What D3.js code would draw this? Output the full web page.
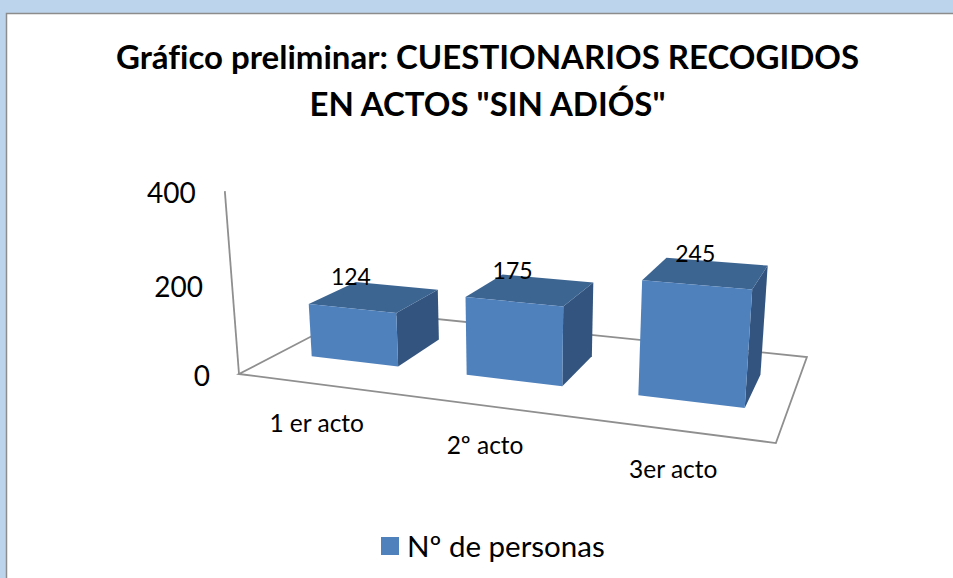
<!DOCTYPE html>
<html><head><meta charset="utf-8">
<script src="https://cdn.jsdelivr.net/npm/d3@7"></script>
<style>html,body{margin:0;padding:0;background:#BDD5EC;overflow:hidden}text{font-family:Lato,Carlito,sans-serif;fill:#000;font-variant-ligatures:none}</style>
</head><body><svg id="c" width="953" height="578"></svg>
<script>
const titleLines = ['Gráfico preliminar: CUESTIONARIOS RECOGIDOS', 'EN ACTOS "SIN ADIÓS"'];
const categories = ['1 er acto', '2º acto', '3er acto'];
const values = [124, 175, 245];
const seriesName = 'Nº de personas';
const yTicks = [0, 200, 400];

const svg = d3.select('#c');
svg.append('rect').attr('x',6.5).attr('y',13.5).attr('width',960).attr('height',580)
  .attr('fill','#fff').attr('stroke','#8c8c8c').attr('stroke-width',1.5);

// Perspective camera: floor plane homography plus vanishing point of verticals
const H = {a:417.4,b:197.3,c:239,d:0.8,e:3,f:374,g:-0.154,h:0.212};
const V = [520,4000], n = 1.2e-4;
function project(u,v,w){
  const W = H.g*u+H.h*v+1;
  const fx = (H.a*u+H.b*v+H.c)/W, fy = (H.d*u+H.e*v+H.f)/W;
  const q = w*n, t = q/(W-q);
  return [fx+t*(fx-V[0]), fy+t*(fy-V[1])];
}
const xBand = d3.scaleBand().domain(categories).range([0,1]).paddingInner(0.43).paddingOuter(0.215);
const depth = d3.scaleLinear().domain([0,1]).range([0.3,0.7]);
const yVal = d3.scaleLinear().domain([0,400]).range([0,400]);
const line = d3.line();
const poly = pts => line(pts)+'Z';
const gray = '#8f8f8f';

// floor and wall
svg.append('path').attr('d',poly([project(0,0,0),project(1,0,0),project(1,1,0),project(0,1,0)]))
  .attr('fill','none').attr('stroke',gray).attr('stroke-width',1.8);
svg.append('path').attr('d',line([project(0,0,0),project(0,0,yVal(400))]))
  .attr('fill','none').attr('stroke',gray).attr('stroke-width',1.8);

// tick labels
svg.selectAll('.tick').data(yTicks).join('text').attr('class','tick')
  .attr('x',d=>project(0,0,yVal(d))[0]-29).attr('y',d=>project(0,0,yVal(d))[1]+5)
  .attr('text-anchor','end').attr('dominant-baseline','middle').attr('font-size',28).text(d=>d);

// bars
const bars = svg.selectAll('.bar').data(categories.map((c,i)=>({c,v:values[i]}))).join('g').attr('class','bar');
bars.each(function(d){
  const u0=xBand(d.c), u1=u0+xBand.bandwidth(), v0=depth(0), v1=depth(1), w=yVal(d.v);
  const g=d3.select(this);
  g.append('path').attr('d',poly([project(u1,v0,0),project(u1,v1,0),project(u1,v1,w),project(u1,v0,w)])).attr('fill','#33547E');
  g.append('path').attr('d',poly([project(u0,v0,w),project(u1,v0,w),project(u1,v1,w),project(u0,v1,w)])).attr('fill','#3D6592');
  g.append('path').attr('d',poly([project(u0,v0,0),project(u1,v0,0),project(u1,v0,w),project(u0,v0,w)])).attr('fill','#4F81BD');
});

// value labels
svg.selectAll('.val').data(categories.map((c,i)=>({c,v:values[i]}))).join('text').attr('class','val')
  .attr('x',d=>project(xBand(d.c)+xBand.bandwidth()/2,depth(0),yVal(d.v))[0]-1)
  .attr('y',d=>project(xBand(d.c)+xBand.bandwidth()/2,depth(0),yVal(d.v))[1]-29)
  .attr('text-anchor','middle').attr('dominant-baseline','middle').attr('font-size',23).text(d=>d.v);

// category labels
const xc = d3.scaleBand().domain(categories).range([0,1]);
svg.selectAll('.cat').data(categories).join('text').attr('class','cat')
  .attr('x',d=>project(xc(d)+xc.bandwidth()/2,0,0)[0])
  .attr('y',d=>project(xc(d)+xc.bandwidth()/2,0,0)[1]+42)
  .attr('text-anchor','middle').attr('dominant-baseline','middle').attr('font-size',24.5).text(d=>d);

// title
svg.selectAll('.title').data(titleLines).join('text').attr('class','title')
  .attr('x',487.5).attr('y',(d,i)=>69+i*47).attr('text-anchor','middle')
  .attr('font-weight',700).attr('font-size',33).text(d=>d);

// legend
svg.append('rect').attr('x',381).attr('y',537).attr('width',18).attr('height',18).attr('fill','#4F81BD');
svg.append('text').attr('x',407).attr('y',557).attr('font-size',29.5).text(seriesName);
</script></body></html>
